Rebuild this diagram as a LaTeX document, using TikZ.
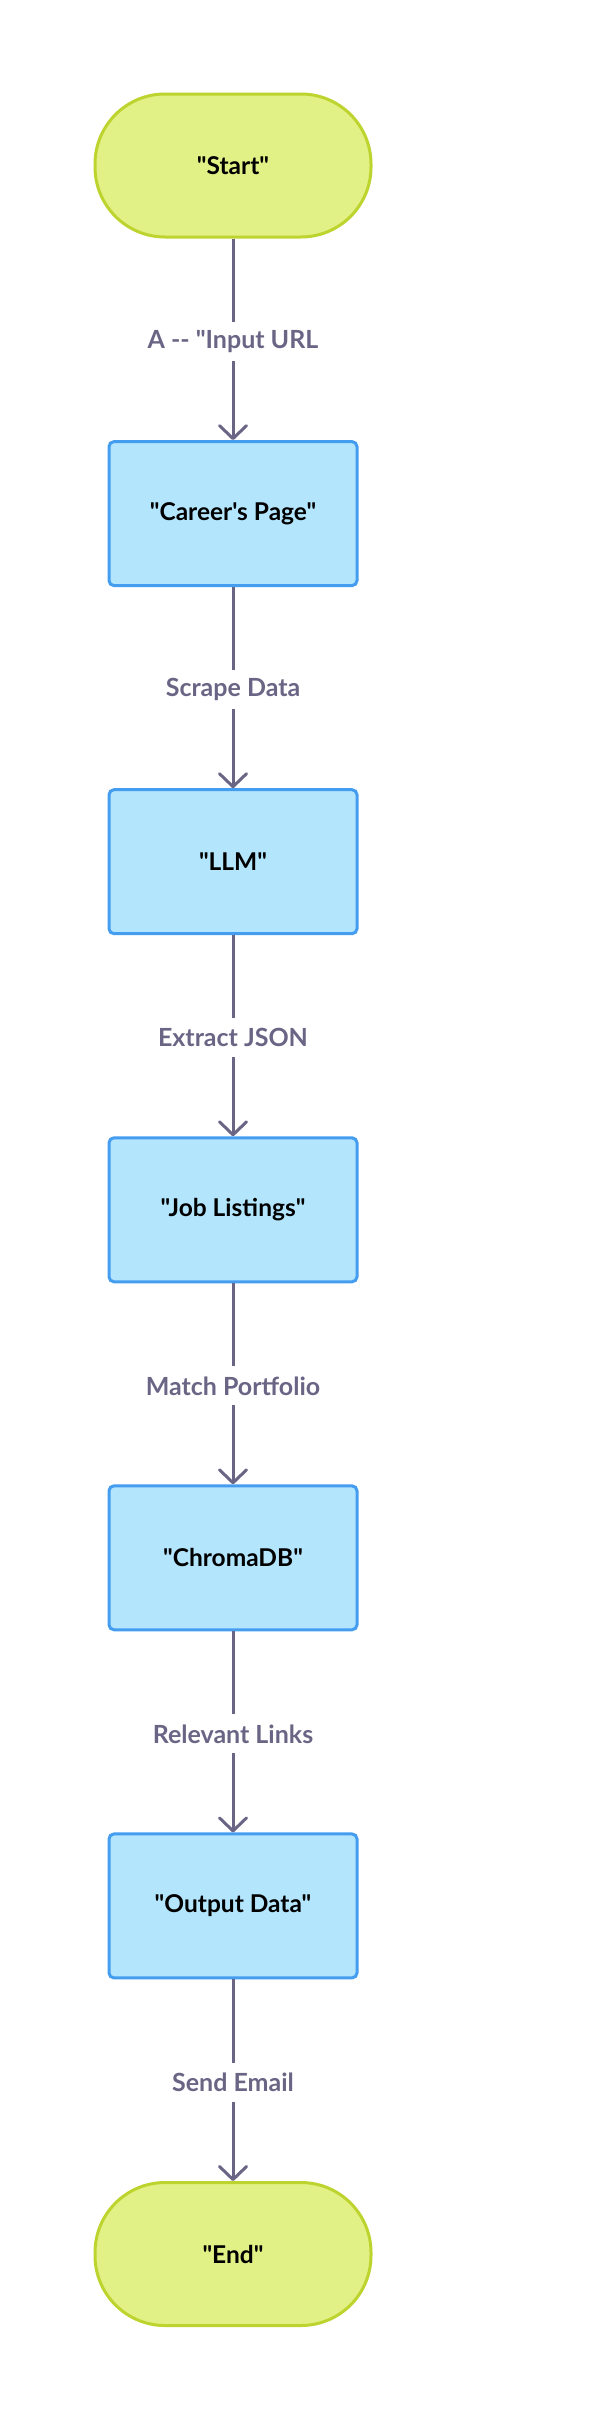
\documentclass[tikz,border=0pt]{standalone}
\usepackage{fontspec}
\newfontfamily\dfont{Lato}
\usetikzlibrary{arrows.meta}
\definecolor{termfill}{HTML}{E1F185}
\definecolor{termstroke}{HTML}{BED42E}
\definecolor{procfill}{HTML}{B3E5FC}
\definecolor{procstroke}{HTML}{459DF0}
\definecolor{linec}{HTML}{6B6585}
\tikzset{
  nodetext/.style={font=\dfont\bfseries\fontsize{24.5}{29}\selectfont, text=black},
  term/.style={nodetext, rectangle, rounded corners=70pt, draw=termstroke, fill=termfill,
    line width=3pt, minimum width=276pt, minimum height=143pt},
  proc/.style={nodetext, rectangle, rounded corners=5pt, draw=procstroke, fill=procfill,
    line width=3pt, minimum width=248pt, minimum height=144pt},
  flow/.style={draw=linec, line width=3pt,
    -{Straight Barb[length=13pt,width=27pt,round]}},
  lbl/.style={fill=white, text=linec, font=\dfont\bfseries\fontsize{25}{29}\selectfont,
    inner sep=0pt, inner xsep=3pt, minimum height=39pt, yshift=-2pt}
}
\begin{document}
\begin{tikzpicture}[x=1pt,y=-1pt]
\useasboundingbox[fill=white] (0,0) rectangle (602,2425);
\node[term] (start)  at (233,165.5)  {"Start"};
\node[proc] (career) at (233,513.6)  {"Career's Page"};
\node[proc] (llm)    at (233,861.7)  {"LLM"};
\node[proc] (jobs)   at (233,1209.8) {"Job Listings"};
\node[proc] (chroma) at (233,1557.8) {"ChromaDB"};
\node[proc] (output) at (233,1905.9) {"Output Data"};
\node[term] (end)    at (233,2254)   {"End"};
\draw[flow] (start)  -- node[lbl] {A -- "Input URL} (career);
\draw[flow] (career) -- node[lbl] {Scrape Data} (llm);
\draw[flow] (llm)    -- node[lbl] {Extract JSON} (jobs);
\draw[flow] (jobs)   -- node[lbl] {Match Portfolio} (chroma);
\draw[flow] (chroma) -- node[lbl] {Relevant Links} (output);
\draw[flow] (output) -- node[lbl] {Send Email} (end);
\end{tikzpicture}
\end{document}
